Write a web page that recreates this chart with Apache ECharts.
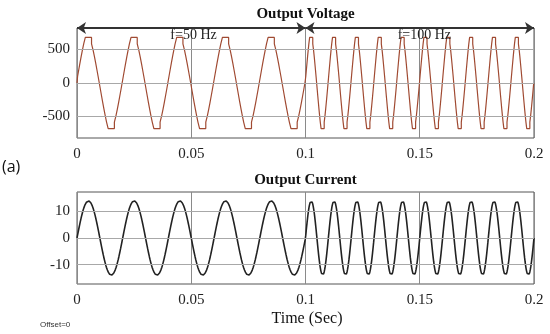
<!DOCTYPE html>
<html><head><meta charset="utf-8">
<script src="https://cdn.jsdelivr.net/npm/echarts@6/dist/echarts.min.js"></script>
<style>html,body{margin:0;padding:0;background:#fff}#c{width:550px;height:334px}</style>
</head><body><div id="c"></div>
<script>
// ---- data ----
const xTicks = [0, 0.05, 0.1, 0.15, 0.2];
const voltageTicks = [-500, 0, 500];
const currentTicks = [-10, 0, 10];
const segFreq = [50, 100];          // Hz
const segStart = [0, 0.1];          // s
const segEnd = [0.1, 0.2];          // s
const voltageLevels = [0, 97, 194, 291, 389, 486, 583, 680];      // V, staircase levels
const switchAngles = [4.5, 13.5, 22.8, 32.3, 42.2, 52.8, 65.5];  // deg, switching instants in a quarter cycle
const currentPeak = [14, 14];       // A, per segment
const titles = ['Output Voltage', 'Output Current'];
const freqLabels = ['f=50 Hz', 'f=100 Hz'];
const freqLabelPos = [[0.051, 716], [0.152, 716]];
const xName = 'Time (Sec)';

// ---- build waveforms ----
const voltage = [];
const current = [];
for (let s = 0; s < segFreq.length; s++) {
  const f = segFreq[s], T = 1 / f;
  const nCyc = Math.round((segEnd[s] - segStart[s]) * f);
  let prev = 0;
  voltage.push([segStart[s], 0]);
  for (let c = 0; c < nCyc; c++) {
    const t0 = segStart[s] + c * T;
    for (let h = 0; h < 2; h++) {
      const sign = h === 0 ? 1 : -1;
      const ev = [];
      for (let k = 0; k < switchAngles.length; k++) ev.push([switchAngles[k], k + 1]);
      for (let k = switchAngles.length - 1; k >= 0; k--) ev.push([180 - switchAngles[k], k]);
      for (const [ang, lv] of ev) {
        const t = t0 + (h * 180 + ang) / 360 * T;
        const v = sign * voltageLevels[lv];
        voltage.push([t, prev]);
        voltage.push([t, v]);
        prev = v;
      }
    }
  }
  voltage.push([segEnd[s], 0]);
  const n = Math.round((segEnd[s] - segStart[s]) / 0.0001);
  for (let i = 0; i <= n; i++) {
    const t = segStart[s] + i * 0.0001;
    current.push([t, currentPeak[s] * Math.sin(2 * Math.PI * f * (t - segStart[s]))]);
  }
}

const serif = "'Liberation Serif', 'DejaVu Serif', serif";
const chart = echarts.init(document.getElementById('c'), null, {renderer: 'canvas'});

function xAxis(g) {
  return {
    gridIndex: g, type: 'value', min: xTicks[0], max: xTicks[xTicks.length - 1], interval: 0.05,
    axisLine: {show: false}, axisTick: {show: false},
    axisLabel: {fontFamily: serif, fontSize: 15, color: '#222', margin: 9, formatter: v => String(+v.toFixed(2))},
    splitLine: {show: true, lineStyle: {color: '#8a8a8a', width: 1}}
  };
}
function yAxis(g, mn, mx, ticks) {
  return {
    gridIndex: g, type: 'value', min: mn, max: mx,
    axisLine: {show: false}, axisTick: {show: false},
    axisLabel: {customValues: ticks, fontFamily: serif, fontSize: 15, color: '#222', margin: 7},
    splitLine: {show: false}
  };
}
function hLines(g, ticks) {
  return {
    type: 'line', xAxisIndex: g, yAxisIndex: g, data: [[0, 0]], symbol: 'none',
    lineStyle: {opacity: 0}, silent: true, z: 1,
    markLine: {silent: true, symbol: 'none', label: {show: false}, animation: false,
      lineStyle: {color: '#a8a8a8', type: 'solid', width: 1},
      data: ticks.map(v => ({yAxis: v}))}
  };
}

chart.setOption({
  animation: false,
  backgroundColor: '#fff',
  grid: [
    {left: 77, right: 16, top: 28, height: 110, show: true, borderColor: '#555', borderWidth: 1, backgroundColor: 'transparent'},
    {left: 77, right: 16, top: 192, height: 92, show: true, borderColor: '#555', borderWidth: 1, backgroundColor: 'transparent'}
  ],
  xAxis: [xAxis(0), xAxis(1)],
  yAxis: [yAxis(0, -820, 820, voltageTicks), yAxis(1, -17.3, 17.3, currentTicks)],
  series: [
    hLines(0, voltageTicks),
    hLines(1, currentTicks),
    {
      type: 'line', xAxisIndex: 0, yAxisIndex: 0, data: voltage, showSymbol: false, symbol: 'none',
      lineStyle: {color: '#a04a32', width: 1.2}, z: 3,
      markLine: {silent: true, animation: false, symbol: ['arrow', 'arrow'], symbolSize: [9, 9],
        label: {show: false}, lineStyle: {color: '#333', type: 'solid', width: 2},
        data: [
          [{coord: [segStart[0], 820]}, {coord: [segEnd[0], 820]}],
          [{coord: [segStart[1], 820]}, {coord: [segEnd[1], 820]}]
        ]}
    },
    {
      type: 'line', xAxisIndex: 1, yAxisIndex: 1, data: current, showSymbol: false, symbol: 'none',
      lineStyle: {color: '#222', width: 1.6}, z: 3
    }
  ]
});

const cx = (77 + 534) / 2;
const g = [
  {type: 'text', x: cx, y: 14, style: {text: titles[0], font: "bold 15px " + serif, fill: '#111', align: 'center', verticalAlign: 'middle'}},
  {type: 'text', x: cx, y: 180, style: {text: titles[1], font: "bold 15px " + serif, fill: '#111', align: 'center', verticalAlign: 'middle'}},
  {type: 'text', x: 307, y: 319, style: {text: xName, font: "16px " + serif, fill: '#111', align: 'center', verticalAlign: 'middle'}},
  {type: 'text', x: 2, y: 167, style: {text: '(a)', font: "16px 'Open Sans', 'Noto Sans', sans-serif", fill: '#111', align: 'left', verticalAlign: 'middle'}},
  {type: 'text', x: 40, y: 325, style: {text: 'Offset=0', font: "8px 'Liberation Sans', sans-serif", fill: '#333', align: 'left', verticalAlign: 'middle'}}
];
freqLabels.forEach((t, i) => {
  const p = chart.convertToPixel({gridIndex: 0}, freqLabelPos[i]);
  g.push({type: 'text', x: p[0], y: p[1], z: 10, style: {text: t, font: "14px " + serif, fill: '#222', align: 'center', verticalAlign: 'middle'}});
});
chart.setOption({graphic: g});
</script></body></html>
